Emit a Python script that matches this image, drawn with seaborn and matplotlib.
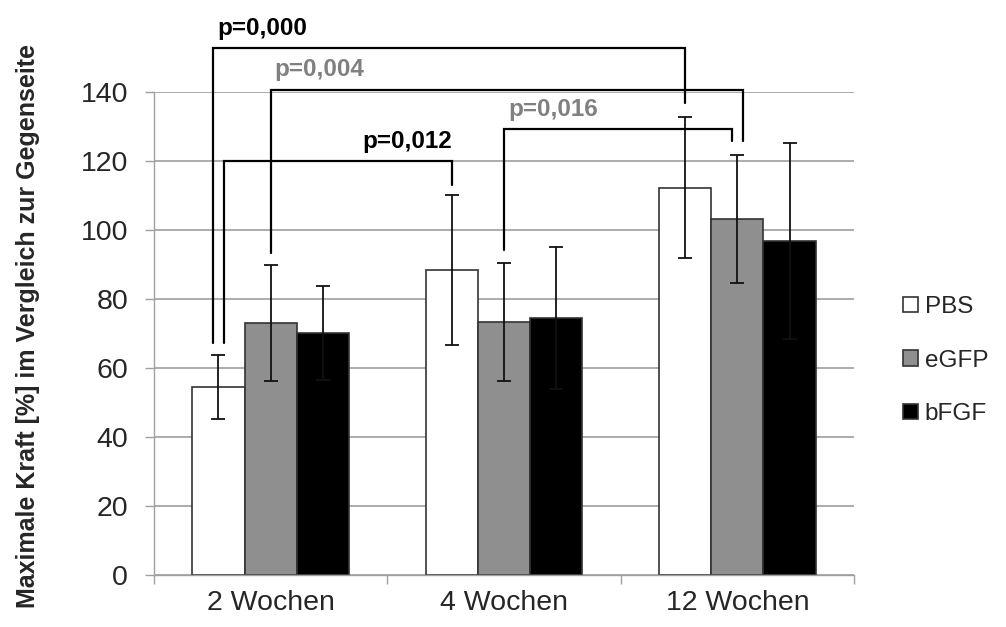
import matplotlib
matplotlib.use("Agg")
import matplotlib.pyplot as plt
import seaborn as sns
import pandas as pd
from matplotlib.ticker import FixedLocator

groups = ["2 Wochen", "4 Wochen", "12 Wochen"]
treatments = ["PBS", "eGFP", "bFGF"]

pbs_mean = [54.5, 88.4, 112.3]
pbs_sd = [9.3, 21.6, 20.5]
egfp_mean = [73.0, 73.3, 103.1]
egfp_sd = [16.8, 17.1, 18.6]
bfgf_mean = [70.1, 74.5, 96.8]
bfgf_sd = [13.7, 20.6, 28.5]

# p-value brackets: label, text colour, (group, treatment, side shift, bottom) per leg, height
brackets = [
    ("p=0,000", "black", (0, "PBS", -1, 67.3), (2, "PBS", 0, 136.9), 152.7),
    ("p=0,004", "#808080", (0, "eGFP", 0, 93.3), (2, "eGFP", 1, 125.9), 140.7),
    ("p=0,012", "black", (0, "PBS", 1, 67.3), (1, "PBS", 0, 113.0), 119.9),
    ("p=0,016", "#808080", (1, "eGFP", 0, 94.2), (2, "eGFP", -1, 125.9), 129.2),
]

means = {"PBS": pbs_mean, "eGFP": egfp_mean, "bFGF": bfgf_mean}
sds = {"PBS": pbs_sd, "eGFP": egfp_sd, "bFGF": bfgf_sd}

rows = []
for t in treatments:
    for g, m, s in zip(groups, means[t], sds[t]):
        rows.append({"Zeit": g, "Gruppe": t, "Kraft": m, "SD": s})
df = pd.DataFrame(rows)

sns.set_style("white")
plt.rcParams["font.family"] = ["Liberation Sans", "DejaVu Sans"]

fig = plt.figure(figsize=(10.06, 6.27), dpi=100)
ax = fig.add_axes([0.153, 0.0829, 0.696, 0.7704])

palette = {"PBS": "white", "eGFP": "#8f8f8f", "bFGF": "black"}
sns.barplot(data=df, x="Zeit", y="Kraft", hue="Gruppe", order=groups,
            hue_order=treatments, palette=palette, width=0.67,
            errorbar=None, edgecolor="#333333", linewidth=1.2, ax=ax,
            zorder=2)

# bar centres from the drawn bars
centres = {}
for t, cont in zip(treatments, ax.containers):
    xs = [b.get_x() + b.get_width() / 2 for b in cont]
    centres[t] = xs
    ax.errorbar(xs, means[t], yerr=sds[t], fmt="none", ecolor="#111111",
                elinewidth=1.3, capsize=5.3, capthick=1.3, zorder=3)

ax.set_xlim(-0.5, 2.5)
ax.set_ylim(0, 140)
ax.set_yticks(range(0, 141, 20))
ax.yaxis.grid(True, color="#a6a6a6", linewidth=1.3)
ax.set_axisbelow(True)

for s in ["top", "right"]:
    ax.spines[s].set_visible(False)
for s in ["left", "bottom"]:
    ax.spines[s].set_color("#a0a0a0")
    ax.spines[s].set_linewidth(1.0)

ax.xaxis.set_minor_locator(FixedLocator([-0.5, 0.5, 1.5, 2.5]))
ax.tick_params(axis="x", which="major", length=0, pad=11, labelsize=20.5)
ax.tick_params(axis="x", which="minor", length=6.5, width=1, color="#a0a0a0",
               direction="out", bottom=True)
ax.tick_params(axis="y", length=6.5, width=1, color="#a0a0a0", pad=12,
               labelsize=20.5, direction="out", left=True)

ax.set_xlabel("")
ax.set_ylabel("Maximale Kraft [%] im Vergleich zur Gegenseite",
              fontsize=18, fontweight="bold")
ax.yaxis.set_label_coords(-0.163, 0.516)

# brackets
dx = 0.025
for label, tcolor, (g1, t1, s1, b1), (g2, t2, s2, b2), top in brackets:
    x1 = centres[t1][g1] + s1 * dx
    x2 = centres[t2][g2] + s2 * dx
    ax.plot([x1, x1, x2, x2], [b1, top, top, b2], color="black", lw=1.6,
            clip_on=False, zorder=4, solid_joinstyle="miter")
    if label == "p=0,012":
        ax.text(x2, top + 3.8, label, ha="right", va="baseline", fontsize=17.5,
                fontweight="bold", color=tcolor, clip_on=False)
    else:
        ax.text(x1 + 0.018, top + 3.8, label, ha="left", va="baseline",
                fontsize=17.5, fontweight="bold", color=tcolor, clip_on=False)

handles, labels = ax.get_legend_handles_labels()
ax.legend(handles, labels, loc="center left", bbox_to_anchor=(0.8976, 0.425),
          bbox_transform=fig.transFigure, frameon=False, fontsize=17.5,
          handlelength=0.6, handleheight=0.6, handletextpad=0.3,
          labelspacing=1.3, borderpad=0, borderaxespad=0)

fig.savefig("out.png", dpi=100)
